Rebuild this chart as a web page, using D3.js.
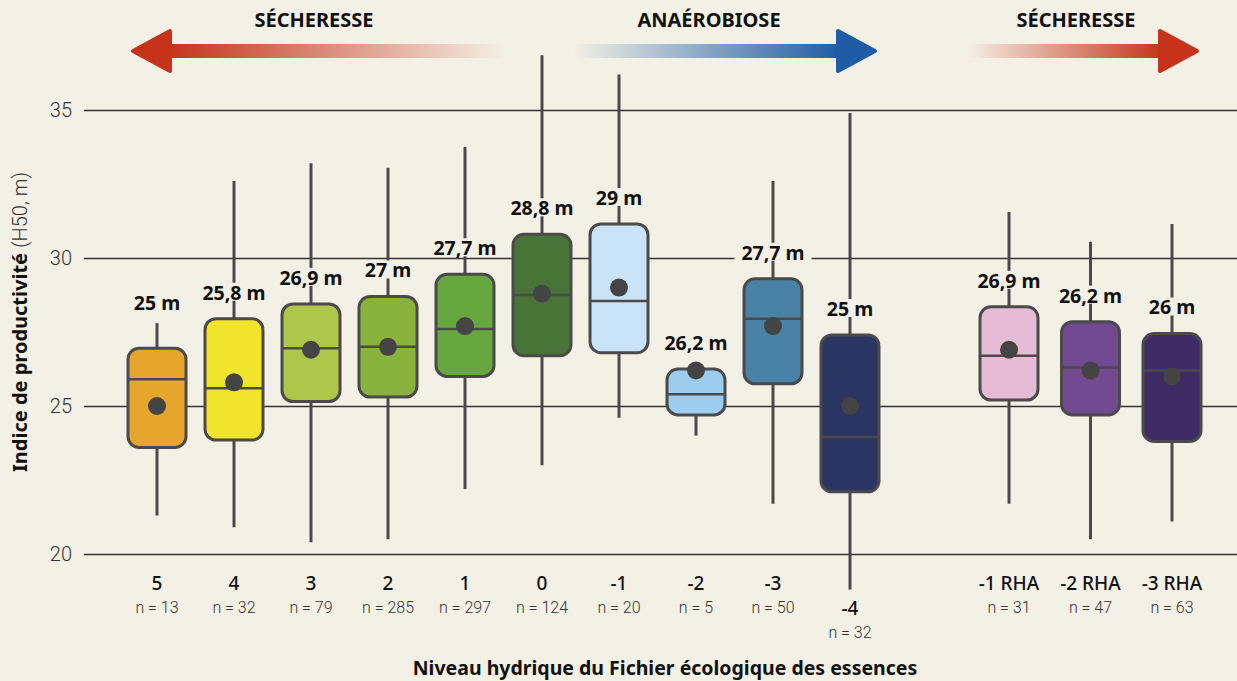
<!DOCTYPE html>
<html lang="fr">
<head>
<meta charset="UTF-8">
<title>Indice de productivité par niveau hydrique</title>
<script src="https://cdn.jsdelivr.net/npm/d3@7/dist/d3.min.js"></script>
<style>
    html, body { margin: 0; padding: 0; background: #f3f0e5; }
    svg { display: block; }
    text { font-family: "Noto Sans", "Open Sans", sans-serif; fill: #111; }
    .light { font-family: Roboto, "Noto Sans", sans-serif; font-weight: 300; fill: #333; }
</style>
</head>
<body>
<svg id="chart" width="1237" height="681"></svg>
<script>
'use strict';

// niveaux hydriques (deux groupes : échelle normale, puis RHA)
const niveaux = ["5", "4", "3", "2", "1", "0", "-1", "-2", "-3", "-4"];
const niveauxRHA = ["-1 RHA", "-2 RHA", "-3 RHA"];
const effectifs = [13, 32, 79, 285, 297, 124, 20, 5, 50, 32, 31, 47, 63];

// statistiques (m)
const minis   = [21.3, 20.9, 20.4, 20.5, 22.2, 23.0, 24.6, 24.0, 21.7, 18.8, 21.7, 20.5, 21.1];
const q1      = [23.6, 23.85, 25.15, 25.3, 26.0, 26.7, 26.8, 24.7, 25.75, 22.1, 25.2, 24.7, 23.8];
const medianes= [25.9, 25.6, 26.95, 27.0, 27.6, 28.75, 28.55, 25.4, 27.95, 23.95, 26.7, 26.3, 26.2];
const q3      = [26.95, 27.95, 28.45, 28.7, 29.45, 30.8, 31.15, 26.25, 29.3, 27.4, 28.35, 27.85, 27.45];
const maxis   = [27.8, 32.6, 33.2, 33.05, 33.75, 36.85, 36.2, 26.25, 32.6, 34.9, 31.55, 30.55, 31.15];
const moyennes= [25.0, 25.8, 26.9, 27.0, 27.7, 28.8, 29.0, 26.2, 27.7, 25.0, 26.9, 26.2, 26.0];

const couleurs = ["#e6a52c", "#f1e42d", "#aec74b", "#89b33c", "#66a83f", "#487537", "#c8e2f7",
                  "#9ccdee", "#4a82a7", "#2a3564", "#e6bbd6", "#724a91", "#3e2b66"];

const yTicks = [20, 25, 30, 35];

const svg = d3.select('#chart');
const W = 1237, H = 681;
const bg = "#f3f0e5";

svg.append('rect').attr('width', W).attr('height', H).attr('fill', bg);

const y = d3.scaleLinear().domain([20, 35]).range([554, 110]);
const xMain = d3.scalePoint().domain(niveaux).range([157, 850]);
const xRHA = d3.scalePoint().domain(niveauxRHA).range([1009, 1172]);
const xPos = c => niveaux.includes(c) ? xMain(c) : xRHA(c);

const data = niveaux.concat(niveauxRHA).map((c, i) => ({
    cat: c, n: effectifs[i], lo: minis[i], q1: q1[i], med: medianes[i],
    q3: q3[i], hi: maxis[i], mean: moyennes[i], color: couleurs[i]
}));

// grille horizontale + ticks
const yAxis = d3.axisLeft(y).tickValues(yTicks).tickSize(-(W - 84)).tickPadding(12);
const gy = svg.append('g').attr('transform', 'translate(84,0)').call(yAxis);
gy.select('.domain').remove();
gy.selectAll('.tick line').attr('stroke', '#333').attr('stroke-width', 1.5);
gy.selectAll('.tick text').attr('class', 'light').style('font-size', '20px').attr('fill', '#333');

// titre axe y
const yt = svg.append('text')
    .attr('transform', 'translate(27,322) rotate(-90)')
    .attr('text-anchor', 'middle')
    .style('font-size', '20px');
yt.append('tspan').attr('font-weight', 700).text('Indice de productivité ');
yt.append('tspan').attr('class', 'light').style('font-size', '20px').text('(H50, m)');

// moustaches
const lineCol = "#4a4a4a";
svg.selectAll('.whisker')
    .data(data).enter().append('line')
    .attr('class', 'whisker')
    .attr('x1', d => xPos(d.cat)).attr('x2', d => xPos(d.cat))
    .attr('y1', d => y(d.lo)).attr('y2', d => y(d.hi))
    .attr('stroke', lineCol).attr('stroke-width', 3);

// boîtes
const bw = 58;
const boxes = svg.selectAll('.box').data(data).enter().append('g').attr('class', 'box');
boxes.append('rect')
    .attr('x', d => xPos(d.cat) - bw / 2)
    .attr('y', d => y(d.q3))
    .attr('width', bw)
    .attr('height', d => y(d.q1) - y(d.q3))
    .attr('rx', 11).attr('ry', 11)
    .attr('fill', d => d.color)
    .attr('stroke', lineCol).attr('stroke-width', 3);
boxes.append('line')
    .attr('x1', d => xPos(d.cat) - bw / 2).attr('x2', d => xPos(d.cat) + bw / 2)
    .attr('y1', d => y(d.med)).attr('y2', d => y(d.med))
    .attr('stroke', lineCol).attr('stroke-width', 2.5);
boxes.append('circle')
    .attr('cx', d => xPos(d.cat)).attr('cy', d => y(d.mean))
    .attr('r', 9).attr('fill', '#444');

// étiquettes de moyenne (avec fond pour masquer moustache / grille)
const fmt = v => (Number.isInteger(v) ? String(v) : v.toFixed(1).replace('.', ',')) + ' m';
const labels = svg.selectAll('.mlab').data(data).enter().append('g').attr('class', 'mlab');
labels.each(function (d) {
    const g = d3.select(this);
    let cy = y(d.q3) - 26;
    // moustache trop courte : l'étiquette passe au-dessus
    if (d.hi > d.q3 && y(d.hi) > cy - 13) cy = y(d.hi) - 20;
    const t = g.append('text')
        .attr('x', xPos(d.cat)).attr('y', cy + 7)
        .attr('text-anchor', 'middle')
        .attr('font-weight', 700).style('font-size', '19.5px')
        .text(fmt(d.mean));
    const bb = t.node().getBBox();
    g.insert('rect', 'text')
        .attr('x', bb.x - 7).attr('y', cy - 10)
        .attr('width', bb.width + 14).attr('height', 18)
        .attr('fill', bg);
});

// libellés de l'axe x
const xl = svg.selectAll('.xlab').data(data).enter().append('g').attr('class', 'xlab');
xl.append('text')
    .attr('x', d => xPos(d.cat))
    .attr('y', d => d.cat === '-4' ? 615 : 590)
    .attr('text-anchor', 'middle')
    .attr('font-weight', 500).style('font-size', '19px')
    .text(d => d.cat);
xl.append('text')
    .attr('class', 'light')
    .attr('x', d => xPos(d.cat))
    .attr('y', d => d.cat === '-4' ? 638 : 613)
    .attr('text-anchor', 'middle')
    .style('font-size', '16px')
    .text(d => 'n = ' + d.n);

svg.append('text')
    .attr('x', 665).attr('y', 675)
    .attr('text-anchor', 'middle')
    .attr('font-weight', 700).style('font-size', '19.5px')
    .text('Niveau hydrique du Fichier écologique des essences');

// flèches du haut
const defs = svg.append('defs');
function grad(id, from, to) {
    const g = defs.append('linearGradient').attr('id', id);
    g.append('stop').attr('offset', '0%').attr('stop-color', from.c).attr('stop-opacity', from.o);
    g.append('stop').attr('offset', '100%').attr('stop-color', to.c).attr('stop-opacity', to.o);
}
const red = "#c6331a", blue = "#1f5ca6";
grad('gRedL', {c: red, o: 1}, {c: red, o: 0});
grad('gBlue', {c: blue, o: 0}, {c: blue, o: 1});
grad('gRedR', {c: red, o: 0}, {c: red, o: 1});

const arrows = [
    {label: 'SÉCHERESSE', x0: 505, x1: 133, fill: 'gRedL', head: red, tx: 314},
    {label: 'ANAÉROBIOSE', x0: 573, x1: 875, fill: 'gBlue', head: blue, tx: 709},
    {label: 'SÉCHERESSE', x0: 968, x1: 1197, fill: 'gRedR', head: red, tx: 1076}
];
const ay = 51;
arrows.forEach(a => {
    const dir = a.x1 > a.x0 ? 1 : -1;
    const back = a.x1 - dir * 37;
    svg.append('rect')
        .attr('x', Math.min(a.x0, back + dir * 2)).attr('y', ay - 7)
        .attr('width', Math.abs(back + dir * 2 - a.x0)).attr('height', 14)
        .attr('fill', 'url(#' + a.fill + ')');
    svg.append('path')
        .attr('d', `M${back},${ay - 20} L${a.x1},${ay} L${back},${ay + 20} Z`)
        .attr('fill', a.head).attr('stroke', a.head)
        .attr('stroke-width', 4).attr('stroke-linejoin', 'round');
    svg.append('text')
        .attr('x', a.tx)
        .attr('y', 27)
        .attr('text-anchor', 'middle')
        .attr('font-weight', 700).style('font-size', '20px')
        .text(a.label);
});
</script>
</body>
</html>
